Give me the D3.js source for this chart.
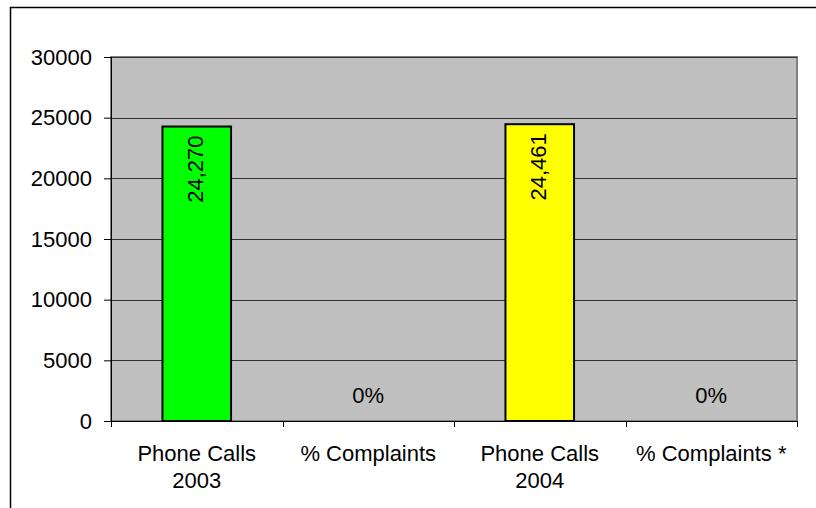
<!DOCTYPE html>
<html>
<head>
<meta charset="utf-8">
<script src="https://cdn.jsdelivr.net/npm/d3@7"></script>
<style>
  html, body { margin: 0; padding: 0; background: #fff; overflow: hidden; }
  svg { display: block; }
  text { font-family: Arial, "Liberation Sans", sans-serif; }
</style>
</head>
<body>
<svg id="chart"></svg>
<script>
// chart values
const categories = ["Phone Calls|2003", "% Complaints", "Phone Calls|2004", "% Complaints *"];
const values = [24270, 0, 24461, 0];
const valueLabels = ["24,270", "0%", "24,461", "0%"];
const rotatedLabel = [true, false, true, false];
const barColors = ["#00ff00", "#00ff00", "#ffff00", "#ffff00"];
const yTicks = [0, 5000, 10000, 15000, 20000, 25000, 30000];

const W = 816, H = 508;
const margin = { top: 57, right: 19, bottom: 87, left: 111 },
    width = W - margin.left - margin.right,
    height = H - margin.top - margin.bottom;

const root = d3.select("#chart").attr("width", W).attr("height", H);

// chart area border (only left and top edges are in view)
root.append("path")
    .attr("d", `M10.5,${H}V7.5H${W}`)
    .attr("fill", "none")
    .attr("stroke", "#000")
    .attr("stroke-width", 1.5);

const svg = root.append("g")
    .attr("transform", `translate(${margin.left},${margin.top})`);

const x = d3.scaleBand().domain(categories).range([0, width]).paddingInner(0.6).paddingOuter(0.3);
const xCat = d3.scaleBand().domain(categories).range([0, width]);
const y = d3.scaleLinear().domain([0, 30000]).range([height, 0]);

// plot area
svg.append("rect")
    .attr("width", width).attr("height", height)
    .attr("fill", "#c0c0c0")
    .attr("stroke", "#808080")
    .attr("stroke-width", 2);

// gridlines
svg.append("g")
    .selectAll("line")
    .data(yTicks.filter(d => d > 0))
    .enter()
    .append("line")
    .attr("x1", 0).attr("x2", width)
    .attr("y1", d => Math.round(y(d)) + 0.5).attr("y2", d => Math.round(y(d)) + 0.5)
    .attr("stroke", "#333")
    .attr("stroke-width", 1);

// bars
svg.append("g")
    .selectAll("rect")
    .data(categories.map((c, i) => ({ c, v: values[i], color: barColors[i] })).filter(d => d.v > 0))
    .enter()
    .append("rect")
    .attr("x", d => x(d.c))
    .attr("y", d => y(d.v))
    .attr("width", x.bandwidth())
    .attr("height", d => height - y(d.v))
    .attr("fill", d => d.color)
    .attr("stroke", "#000")
    .attr("stroke-width", 2);

// y axis
const yAxis = svg.append("g")
    .call(d3.axisLeft(y).tickValues(yTicks).tickSize(7).tickPadding(12).tickFormat(d3.format("d")));
yAxis.select(".domain").attr("stroke", "#000").attr("d", `M0.5,0V${height + 6}`);
yAxis.selectAll(".tick line").attr("stroke", "#000");
yAxis.selectAll("text").attr("font-size", 22).attr("fill", "#000")
    .style("font-family", "Arial, 'Liberation Sans', sans-serif");

// x axis
const xAxisG = svg.append("g").attr("transform", `translate(0,${height})`);
xAxisG.append("line")
    .attr("x1", 0).attr("x2", width)
    .attr("y1", 0.5).attr("y2", 0.5)
    .attr("stroke", "#000");
xAxisG.selectAll(".xt")
    .data(d3.range(categories.length + 1))
    .enter()
    .append("line")
    .attr("x1", i => Math.round(i * xCat.bandwidth()) + 0.5)
    .attr("x2", i => Math.round(i * xCat.bandwidth()) + 0.5)
    .attr("y1", 0).attr("y2", 6)
    .attr("stroke", "#000");

// category labels
xAxisG.selectAll(".cat")
    .data(categories)
    .enter()
    .append("text")
    .attr("text-anchor", "middle")
    .attr("font-size", 22)
    .attr("fill", "#000")
    .attr("transform", d => `translate(${xCat(d) + xCat.bandwidth() / 2},40)`)
    .each(function(d) {
        d.split("|").forEach((line, k) => {
            d3.select(this).append("tspan")
                .attr("x", 0)
                .attr("y", k * 27)
                .text(line);
        });
    });

// value labels
svg.append("g")
    .selectAll("text")
    .data(categories.map((c, i) => ({ c, v: values[i], label: valueLabels[i], rot: rotatedLabel[i] })))
    .enter()
    .append("text")
    .attr("font-size", 22)
    .attr("fill", "#000")
    .attr("text-anchor", d => d.rot ? "end" : "middle")
    .attr("dy", d => d.rot ? "0.35em" : null)
    .attr("transform", d => d.rot
        ? `translate(${xCat(d.c) + xCat.bandwidth() / 2 - 1},${y(d.v) + 9}) rotate(-90)`
        : `translate(${xCat(d.c) + xCat.bandwidth() / 2},${y(d.v) - 18})`)
    .text(d => d.label);
</script>
</body>
</html>
